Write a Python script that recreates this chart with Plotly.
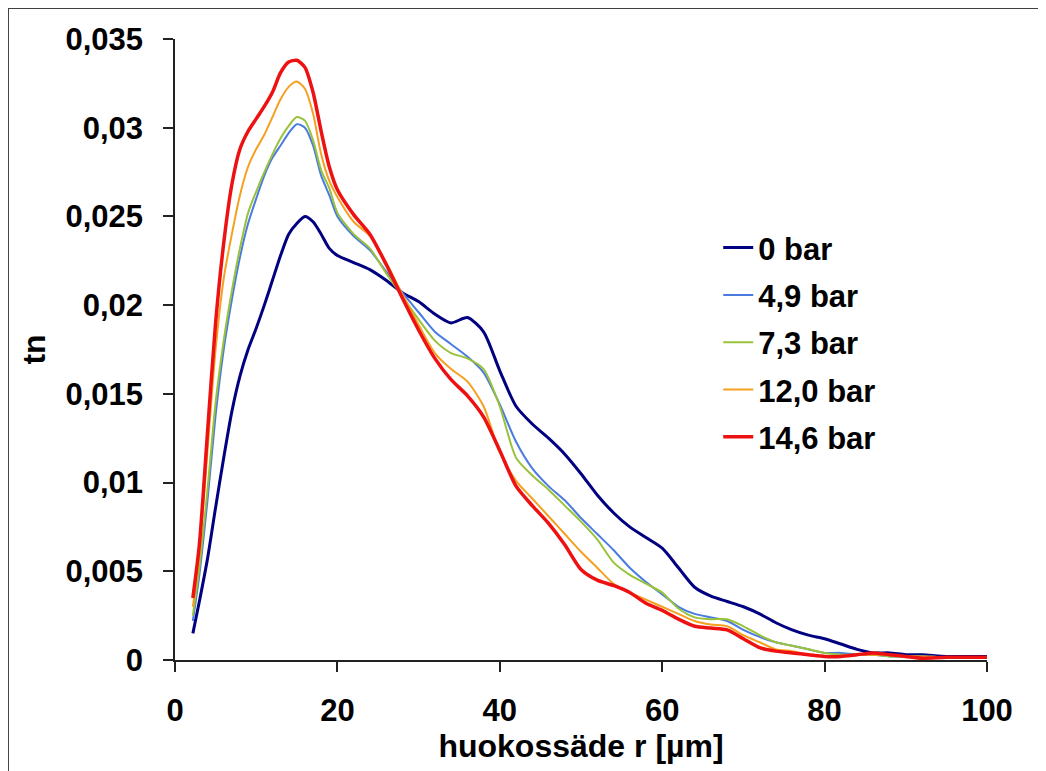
import plotly.graph_objects as go

# pore radius [um]
r = [2.2, 3, 4, 5, 6, 7, 8, 9, 10, 11, 12, 13, 14, 15, 16, 17, 18, 19, 20,
     22, 24, 26, 28, 30, 32, 34, 36, 38, 40, 42, 44, 46, 48, 50, 52, 54, 56,
     58, 60, 62, 64, 66, 68, 70, 72, 74, 76, 78, 80, 82, 84, 86, 88, 90, 92,
     95, 100]

tn_0 = [0.0015, 0.0033, 0.0057, 0.0086, 0.0114, 0.0140, 0.0160, 0.0175, 0.0187,
        0.0200, 0.0214, 0.0228, 0.0240, 0.0246, 0.0250, 0.0247, 0.0240, 0.0232,
        0.0228, 0.0224, 0.0220, 0.0214, 0.0207, 0.0202, 0.0195, 0.0190, 0.0193,
        0.0185, 0.0163, 0.0143, 0.0133, 0.0125, 0.0116, 0.0105, 0.0093, 0.0083,
        0.0075, 0.0069, 0.0063, 0.0052, 0.0041, 0.0036, 0.0033, 0.0030, 0.0026,
        0.0021, 0.0017, 0.0014, 0.0012, 0.0009, 0.0006, 0.0004, 0.0004, 0.0003,
        0.0003, 0.0002, 0.0002]

tn_49 = [0.0022, 0.0048, 0.0090, 0.0138, 0.0175, 0.0203, 0.0227, 0.0246, 0.0260,
         0.0273, 0.0283, 0.0290, 0.0297, 0.0302, 0.0300, 0.0290, 0.0273, 0.0262,
         0.0250, 0.0239, 0.0231, 0.0219, 0.0207, 0.0196, 0.0185, 0.0178, 0.0171,
         0.0162, 0.0144, 0.0123, 0.0108, 0.0098, 0.0090, 0.0080, 0.0071, 0.0062,
         0.0052, 0.0044, 0.0037, 0.0030, 0.0026, 0.0024, 0.0022, 0.0017, 0.0013,
         0.0010, 0.0008, 0.0006, 0.0004, 0.0004, 0.0003, 0.0003, 0.0002, 0.0002,
         0.0002, 0.00015, 0.00015]

tn_73 = [0.0025, 0.0052, 0.0096, 0.0145, 0.0180, 0.0208, 0.0232, 0.0252, 0.0264,
         0.0275, 0.0285, 0.0294, 0.0301, 0.0306, 0.0304, 0.0293, 0.0276, 0.0266,
         0.0252, 0.0240, 0.0232, 0.0218, 0.0205, 0.0192, 0.0180, 0.0173, 0.0170,
         0.0164, 0.0143, 0.0114, 0.0104, 0.0096, 0.0087, 0.0078, 0.0068, 0.0055,
         0.0048, 0.0043, 0.0038, 0.0029, 0.0024, 0.0023, 0.0023, 0.0019, 0.0014,
         0.0010, 0.0008, 0.0006, 0.0004, 0.0003, 0.0003, 0.0003, 0.0002, 0.0002,
         0.0002, 0.00015, 0.00015]

tn_120 = [0.0030, 0.0060, 0.0118, 0.0175, 0.0215, 0.0240, 0.0262, 0.0278, 0.0288,
          0.0296, 0.0306, 0.0316, 0.0323, 0.0326, 0.0322, 0.0308, 0.0285, 0.0270,
          0.0261, 0.0247, 0.0239, 0.0224, 0.0206, 0.0189, 0.0173, 0.0164, 0.0157,
          0.0143, 0.0117, 0.0101, 0.0091, 0.0081, 0.0071, 0.0061, 0.0052, 0.0043,
          0.0038, 0.0034, 0.0030, 0.0026, 0.0022, 0.0020, 0.0019, 0.0014, 0.0010,
          0.0006, 0.0005, 0.0003, 0.0002, 0.0002, 0.0003, 0.0003, 0.0003, 0.0002,
          0.0002, 0.00015, 0.00015]

tn_146 = [0.0035, 0.0065, 0.0128, 0.0190, 0.0235, 0.0268, 0.0288, 0.0298, 0.0305,
          0.0312, 0.0320, 0.0331, 0.0337, 0.0338, 0.0334, 0.0320, 0.0298, 0.0278,
          0.0265, 0.0251, 0.0240, 0.0223, 0.0204, 0.0186, 0.0170, 0.0158, 0.0149,
          0.0137, 0.0118, 0.0098, 0.0087, 0.0077, 0.0065, 0.0051, 0.0045, 0.0042,
          0.0038, 0.0032, 0.0028, 0.0023, 0.0019, 0.0018, 0.0017, 0.0012, 0.0007,
          0.0005, 0.0004, 0.0003, 0.0002, 0.0002, 0.0003, 0.0004, 0.0003, 0.0002,
          0.0001, 0.00015, 0.00015]

names = ['0 bar', '4,9 bar', '7,3 bar', '12,0 bar', '14,6 bar']
series = [tn_0, tn_49, tn_73, tn_120, tn_146]
colors = ['#000080', '#4A7BE0', '#99C23A', '#F5A020', '#EE1111']
widths = [3, 2, 2, 2, 3.5]

font = 'Liberation Sans, Arial, sans-serif'

fig = go.Figure()
for name, ys, col, w in zip(names, series, colors, widths):
    fig.add_trace(go.Scatter(x=r, y=ys, name=name, mode='lines', legendgroup=name,
                             line=dict(color=col, width=w, shape='spline', smoothing=0.7)))

fig.update_xaxes(range=[0, 100], dtick=20, showgrid=False, zeroline=False,
                 showline=True, linecolor='#222', linewidth=1.5,
                 ticks='outside', ticklen=10, tickcolor='#222', tickwidth=1.5,
                 ticklabelstandoff=12,
                 tickfont=dict(family=font, size=31, color='black', weight='bold'),
                 title=dict(text='huokossäde r [µm]', standoff=2,
                            font=dict(family=font, size=32, color='black', weight='bold')))
fig.update_yaxes(range=[0, 0.035], dtick=0.005, showgrid=False, zeroline=False,
                 showline=True, linecolor='#222', linewidth=1.5,
                 ticks='outside', ticklen=10, tickcolor='#222', tickwidth=1.5,
                 ticklabelstandoff=14,
                 tickfont=dict(family=font, size=31, color='black', weight='bold'),
                 title=dict(text='tn', standoff=10,
                            font=dict(family=font, size=32, color='black', weight='bold')))

# outer chart frame (left and top visible)
fig.add_shape(type='rect', xref='paper', yref='paper',
              x0=-0.2057, x1=1.1, y0=-0.25, y1=1.050,
              line=dict(color='#404040', width=2), layer='below')

fig.update_layout(
    width=1046, height=771,
    margin=dict(l=167, r=67, t=31, b=119, autoexpand=False),
    paper_bgcolor='white', plot_bgcolor='white',
    separators=', ',
    showlegend=True,
    legend=dict(x=0.669, y=0.707, xanchor='left', yanchor='top',
                bgcolor='rgba(0,0,0,0)', itemwidth=30, tracegroupgap=4,
                font=dict(family=font, size=31, color='black', weight='bold')),
)

fig.write_html('out.html')
